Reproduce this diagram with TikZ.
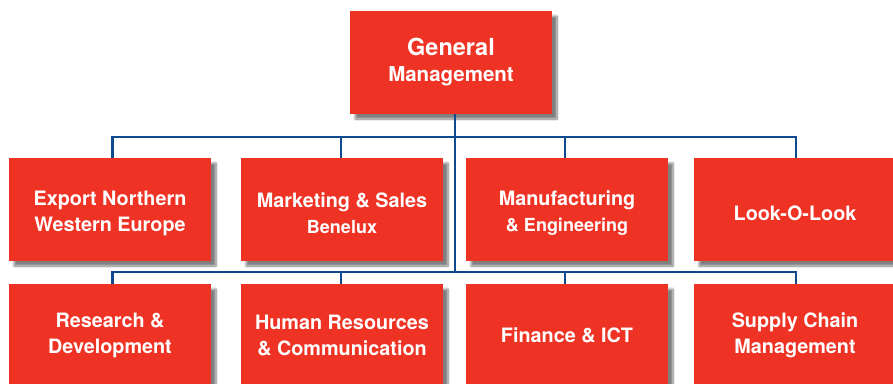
\documentclass[tikz,border=0pt]{standalone}
\usepackage{fontspec}
\setmainfont{TeX Gyre Heros}
\usetikzlibrary{positioning,shadows.blur}
\definecolor{boxred}{HTML}{EE3325}
\definecolor{lineblue}{HTML}{0D4A8E}
\newcommand{\subline}[1]{{\fontsize{18}{24}\selectfont #1}}
\newcommand{\topgap}{\rule{0pt}{22pt}}

\begin{document}
\begin{tikzpicture}[x=1pt,y=-1pt,
  unit/.style={fill=boxred,text=white,font=\bfseries\fontsize{19.8}{26}\selectfont,
    align=center,minimum width=202pt,minimum height=103pt,inner sep=0pt,
    blur shadow={shadow xshift=5pt,shadow yshift=-5pt,shadow blur steps=8,shadow opacity=50}},
  link/.style={draw=lineblue,line width=2.5pt}]
\useasboundingbox (0,0) rectangle (893,383);

\coordinate (busA) at (455,137);
\coordinate (busB) at (455,272);

\node[unit] (gm) at (451,62.5) {{\fontsize{23.5}{27}\selectfont General}\\{\fontsize{20.5}{27}\selectfont Management}};

\node[unit] (export) at (110,209.5) {\topgap Export Northern\\Western Europe};
\node[unit] (marketing) at (342,209.5) {\topgap Marketing \& Sales\\\subline{Benelux}};
\node[unit] (manuf) at (567,209.5) {\topgap Manufacturing\\\subline{\& Engineering}};
\node[unit] (look) at (795,209.5) {\topgap Look-O-Look};

\node[unit] (research) at (110,335.5) {Research \&\\Development};
\node[unit] (hr) at (342,335.5) {Human Resources\\\& Communication};
\node[unit] (finance) at (567,335.5) {Finance \& ICT};
\node[unit] (supply) at (795,335.5) {Supply Chain\\Management};

% connectors
\draw[link] (gm.south -| busA) -- (busB);
\draw[link] (export.north -| 112.5,0) |- (busA) -| (look.north -| 796,0);
\draw[link] (marketing.north -| 341,0) -- (341,137);
\draw[link] (manuf.north -| 565,0) -- (565,137);
\draw[link] (research.north -| 112.5,0) |- (busB) -| (supply.north -| 796,0);
\draw[link] (hr.north -| 341,0) -- (341,272);
\draw[link] (finance.north -| 565,0) -- (565,272);

\end{tikzpicture}
\end{document}
